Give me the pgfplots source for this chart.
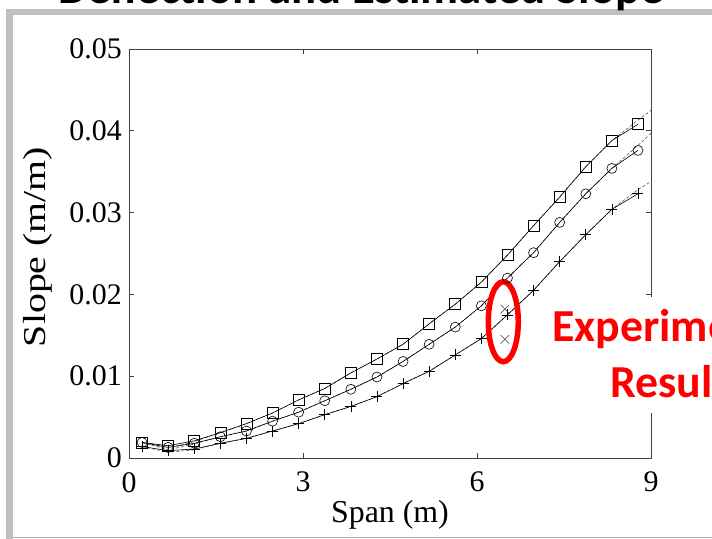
\documentclass[border=0pt]{standalone}
\usepackage{graphicx}
\usepackage{pgfplots}
\pgfplotsset{compat=1.18}
\usepackage{fontspec}
\setmainfont{Liberation Serif}
\newfontfamily\calibri{Carlito}
\begin{document}
\begin{tikzpicture}[x=1bp,y=1bp]
\useasboundingbox (0,0) rectangle (712,539);
\clip (0,0) rectangle (712,539);
\fill[white] (0,0) rectangle (712,539);
% slide frame shadow
\fill[gray!50] (6,0) rectangle (13,530);
\fill[gray!50] (6,524) rectangle (712,530);
\fill[white] (13,2.5) rectangle (712,524);
\draw[gray!60, line width=1.5bp] (13,1.5) -- (712,1.5);
% slide title (cut off by the crop)
\node[anchor=base west, inner sep=0pt] at (58,535) {\calibri\bfseries\fontsize{47}{56}\selectfont Deflection and Estimated Slope};
\begin{axis}[
  at={(129bp,81bp)}, anchor=south west, scale only axis,
  width=522bp, height=409bp,
  xmin=0, xmax=9, ymin=0, ymax=0.05,
  xtick={0,3,6,9}, xticklabels={0,3,6,9},
  ytick={0,0.01,0.02,0.03,0.04,0.05},
  yticklabels={0,0.01,0.02,0.03,0.04,0.05},
  scaled y ticks=false, scaled x ticks=false,
  /pgf/number format/assume math mode=true,
  tick align=inside, major tick length=5bp,
  axis line style={black!75, line width=0.9bp},
  tick style={black!75, line width=0.8bp},
  ticklabel style={font=\fontsize{30}{30}\selectfont},
  yticklabel style={anchor=east, inner sep=0pt, xshift=-7bp},
  xticklabel style={anchor=north, inner sep=0pt, yshift=-14bp},
  xlabel={Span (m)}, ylabel={\scalebox{1.25}[1]{Slope (m/m)}},
  label style={font=\fontsize{32}{32}\selectfont, inner sep=0pt},
  xlabel style={at={(axis description cs:0.5,-0.1589)}, anchor=base},
  ylabel style={at={(axis description cs:-0.1743,0.516)}, anchor=center},
  clip=false,
]
% estimated slope (dashed)
\addplot[gray!60!black, line width=0.55bp, dash pattern=on 3bp off 2bp] coordinates {
(0.225,0.0019)(0.675,0.0012)(1.125,0.0020)(1.575,0.0031)(2.025,0.0042)(2.475,0.0055)(2.925,0.0071)(3.375,0.0085)(3.825,0.0104)(4.275,0.0121)(4.725,0.0139)(5.175,0.0164)(5.625,0.0188)(6.075,0.0215)(6.525,0.0248)(6.975,0.0284)(7.425,0.0319)(7.875,0.0356)(8.325,0.0388)(8.775,0.0413)(9.0,0.0425)};
\addplot[gray!60!black, line width=0.55bp, dash pattern=on 3bp off 2bp] coordinates {
(0.225,0.0019)(0.675,0.0010)(1.125,0.0017)(1.575,0.0026)(2.025,0.0033)(2.475,0.0045)(2.925,0.0056)(3.375,0.0070)(3.825,0.0084)(4.275,0.0099)(4.725,0.0118)(5.175,0.0139)(5.625,0.0160)(6.075,0.0186)(6.525,0.0220)(6.975,0.0251)(7.425,0.0288)(7.875,0.0323)(8.325,0.0354)(8.775,0.0382)(9.0,0.0397)};
\addplot[gray!60!black, line width=0.55bp, dash pattern=on 3bp off 2bp] coordinates {
(0.225,0.0014)(0.675,0.0007)(1.125,0.0010)(1.575,0.0018)(2.025,0.0024)(2.475,0.0033)(2.925,0.0042)(3.375,0.0053)(3.825,0.0063)(4.275,0.0075)(4.725,0.0091)(5.175,0.0106)(5.625,0.0126)(6.075,0.0146)(6.525,0.0175)(6.975,0.0205)(7.425,0.0240)(7.875,0.0273)(8.325,0.0304)(8.775,0.0328)(9.0,0.0338)};
% computed slope (solid with markers)
\addplot[black, line width=0.6bp, mark=square, mark size=5.5bp, mark options={solid, line width=0.6bp}] coordinates {
(0.225,0.0019)(0.675,0.0015)(1.125,0.0021)(1.575,0.0031)(2.025,0.0042)(2.475,0.0055)(2.925,0.0071)(3.375,0.0085)(3.825,0.0104)(4.275,0.0121)(4.725,0.0139)(5.175,0.0164)(5.625,0.0188)(6.075,0.0215)(6.525,0.0248)(6.975,0.0284)(7.425,0.0319)(7.875,0.0356)(8.325,0.0388)(8.775,0.0408)};
\addplot[black, line width=0.6bp, mark=o, mark size=5bp, mark options={solid, line width=0.6bp}] coordinates {
(0.225,0.0019)(0.675,0.0013)(1.125,0.0018)(1.575,0.0026)(2.025,0.0033)(2.475,0.0045)(2.925,0.0056)(3.375,0.0070)(3.825,0.0084)(4.275,0.0099)(4.725,0.0118)(5.175,0.0139)(5.625,0.0160)(6.075,0.0186)(6.525,0.0220)(6.975,0.0251)(7.425,0.0288)(7.875,0.0323)(8.325,0.0354)(8.775,0.0376)};
\addplot[black, line width=0.6bp, mark=+, mark size=5.5bp, mark options={solid, line width=0.6bp}] coordinates {
(0.225,0.0014)(0.675,0.0009)(1.125,0.0011)(1.575,0.0018)(2.025,0.0024)(2.475,0.0033)(2.925,0.0042)(3.375,0.0053)(3.825,0.0063)(4.275,0.0075)(4.725,0.0091)(5.175,0.0106)(5.625,0.0126)(6.075,0.0146)(6.525,0.0175)(6.975,0.0205)(7.425,0.0240)(7.875,0.0273)(8.325,0.0304)(8.775,0.0323)};
% experimental results
\addplot[only marks, black!75, mark=x, mark size=6bp, mark options={line width=0.6bp}] coordinates {(6.48,0.0182)(6.48,0.0145)};
\draw[red, line width=5.5bp] (axis cs:6.453,0.01666) ellipse [x radius=15bp, y radius=40bp];
\end{axis}
% annotation text on white box
\fill[white] (540,126) rectangle (712,242);
\node[anchor=base, inner sep=0pt, text=red] at (678.5,197) {\calibri\bfseries\fontsize{46}{56}\selectfont Experimental};
\node[anchor=base, inner sep=0pt, text=red] at (678.5,141) {\calibri\bfseries\fontsize{46}{56}\selectfont Results};
\end{tikzpicture}
\end{document}
